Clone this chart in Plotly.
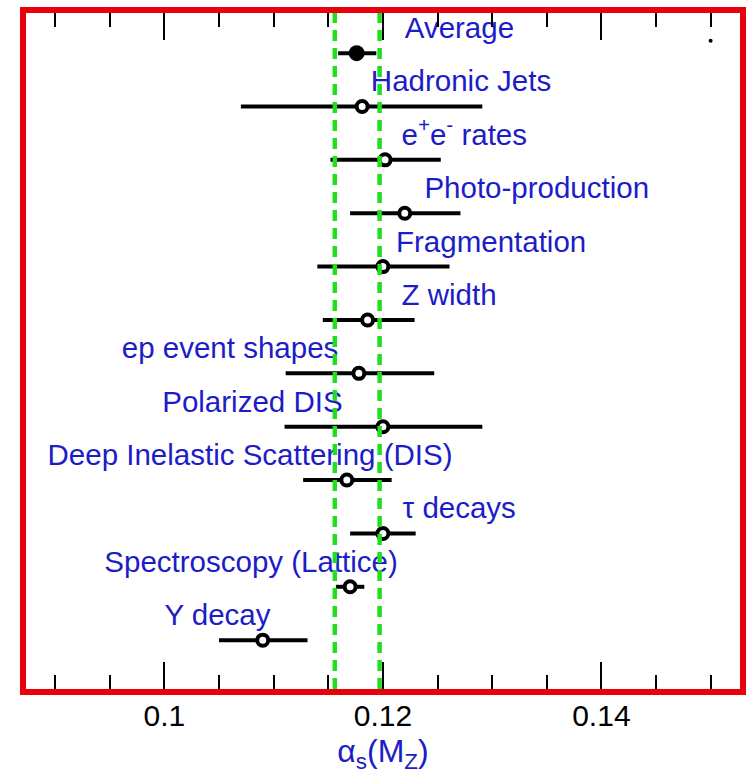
import plotly.graph_objects as go

# alpha_s(M_Z) determinations, listed bottom to top
methods = [
    "\u03a5 decay",
    "Spectroscopy (Lattice)",
    "\u03c4 decays",
    "Deep Inelastic Scattering (DIS)",
    "Polarized DIS",
    "ep event shapes",
    "Z width",
    "Fragmentation",
    "Photo-production",
    "e<sup>+</sup>e<sup>-</sup> rates",
    "Hadronic Jets",
    "Average",
]
alpha_s = [0.1090, 0.1170, 0.1200, 0.1167, 0.1200, 0.1178, 0.1186, 0.1200, 0.1220, 0.1202, 0.1181, 0.1176]
err_lo = [0.0040, 0.0013, 0.0030, 0.0040, 0.0090, 0.0067, 0.0041, 0.0060, 0.0050, 0.0050, 0.0111, 0.0017]
err_hi = [0.0041, 0.0013, 0.0030, 0.0041, 0.0091, 0.0069, 0.0043, 0.0061, 0.0051, 0.0051, 0.0110, 0.0018]

# world-average band edges
band = [0.1156, 0.1197]

# stray point near the top-right corner
dot_x, dot_y = [0.1500], [11.23]

# left edge of each label (data units)
label_x = [0.1000, 0.0945, 0.1218, 0.0893, 0.0998, 0.0961, 0.1217, 0.1212, 0.1238, 0.1217, 0.1189, 0.1220]

rows = list(range(len(methods)))
n_meas = len(methods) - 1

BLUE = "#1c1cc8"
RED = "#e8000b"
GREEN = "#22dd22"
FONT = "Liberation Sans, Arial, sans-serif"

fig = go.Figure()

# individual measurements: open circles with horizontal error bars
fig.add_trace(go.Scatter(
    x=alpha_s[:n_meas], y=rows[:n_meas], mode="markers",
    error_x=dict(type="data", symmetric=False, array=err_hi[:n_meas],
                 arrayminus=err_lo[:n_meas], color="black", thickness=4, width=0),
    marker=dict(symbol="circle", size=11, color="white",
                line=dict(color="black", width=4)),
    showlegend=False, hoverinfo="skip",
))

# average: filled marker
fig.add_trace(go.Scatter(
    x=alpha_s[n_meas:], y=rows[n_meas:], mode="markers",
    error_x=dict(type="data", symmetric=False, array=err_hi[n_meas:],
                 arrayminus=err_lo[n_meas:], color="black", thickness=4, width=0),
    marker=dict(symbol="circle", size=16, color="black"),
    showlegend=False, hoverinfo="skip",
))

fig.add_trace(go.Scatter(
    x=dot_x, y=dot_y, mode="markers",
    marker=dict(size=4, color="black"), showlegend=False, hoverinfo="skip",
))

# method labels, just above each measurement
fig.add_trace(go.Scatter(
    x=label_x, y=[r + 0.42 for r in rows], mode="text", text=methods,
    textposition="middle right",
    textfont=dict(family=FONT, size=29.5, color=BLUE),
    showlegend=False, hoverinfo="skip",
))

# dashed band edges, drawn over everything
for xb in band:
    fig.add_shape(type="line", xref="x", yref="paper", x0=xb, x1=xb, y0=0, y1=1,
                  line=dict(color=GREEN, width=4.5, dash="11px,7px"), layer="above")

y_lo, y_hi = -0.915, 11.752

fig.update_xaxes(
    range=[0.08733, 0.15269],
    showline=True, linecolor=RED, linewidth=6, mirror="ticks",
    ticks="inside", ticklen=27, tickwidth=2, tickcolor="black",
    tick0=0, dtick=0.02, tickformat="~g",
    minor=dict(dtick=0.005, ticks="inside", ticklen=14, tickwidth=2, tickcolor="black"),
    showgrid=False, zeroline=False,
    tickfont=dict(family=FONT, size=30, color="black"),
    ticklabelstandoff=-5,
    title=dict(text="\u03b1<sub>s</sub>(M<sub>Z</sub>)", standoff=18,
               font=dict(family=FONT, size=32, color=BLUE)),
)
fig.update_yaxes(
    range=[y_lo, y_hi],
    showline=True, linecolor=RED, linewidth=6, mirror="ticks",
    tickvals=[y_lo, y_hi], ticks="inside", ticklen=13, tickwidth=2, tickcolor="black",
    showticklabels=False, showgrid=False, zeroline=False,
)

fig.update_layout(
    width=748, height=774,
    margin=dict(l=26, r=2, t=13, b=84),
    plot_bgcolor="white", paper_bgcolor="white",
)

fig.write_html("out.html")
